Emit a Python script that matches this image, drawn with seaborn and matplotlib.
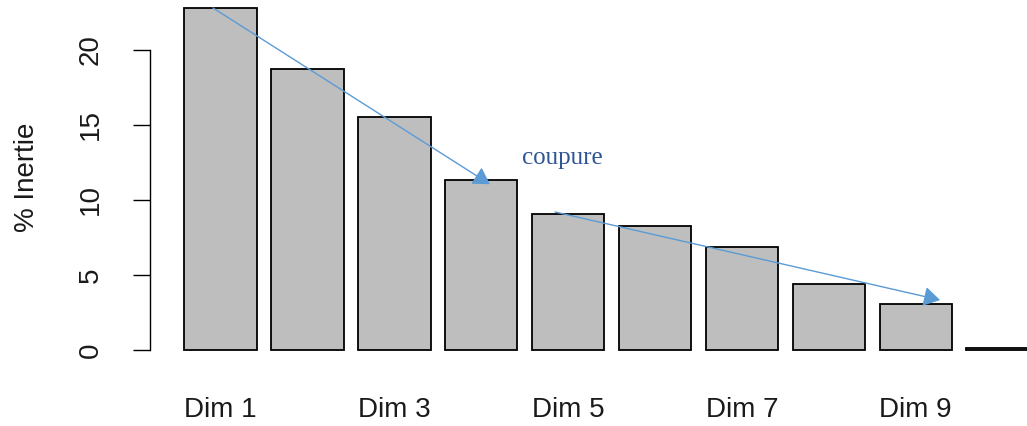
import matplotlib
matplotlib.use("Agg")
import matplotlib.pyplot as plt
import seaborn as sns

# valeurs (% d'inertie par dimension)
dims = ["Dim 1", "Dim 2", "Dim 3", "Dim 4", "Dim 5",
        "Dim 6", "Dim 7", "Dim 8", "Dim 9", "Dim 10"]
inertie = [22.8, 18.75, 15.5, 11.3, 9.05, 8.25, 6.85, 4.4, 3.05, 0.1]
yticks = [0, 5, 10, 15, 20]

# flèches "coupure" (début, fin) en coordonnées des données
fleche1 = ((-0.086, 22.8), (3.10, 11.05))
fleche2 = ((3.85, 9.2), (8.28, 3.33))
texte_coupure = (3.93, 12.8)

sns.set_style("white")
plt.rcParams["font.family"] = ["Liberation Sans", "DejaVu Sans"]

fig = plt.figure(figsize=(10.27, 4.26), dpi=100)
ax = fig.add_axes([0, 46 / 426, 1, 380 / 426])

sns.barplot(x=dims, y=inertie, color="#BEBEBE", saturation=1,
            edgecolor="black", linewidth=1.3, width=0.833, ax=ax)

ax.set_xlim(-2.537, 9.28)
ax.set_ylim(-2.0, 23.33)

for s in ["top", "right", "bottom"]:
    ax.spines[s].set_visible(False)
ax.spines["left"].set_position(("data", -0.806))
ax.spines["left"].set_bounds(0, 20)
ax.spines["left"].set_linewidth(1.0)
ax.spines["left"].set_color("black")

ax.set_yticks(yticks)
ax.set_yticklabels([str(v) for v in yticks], rotation=90, va="center")
ax.tick_params(axis="y", length=12.5, width=1.0, pad=21, labelsize=20,
               colors="#1a1a1a", direction="out", left=True)
ax.tick_params(axis="y", color="black")

ax.set_xticks(range(0, len(dims), 2))
ax.set_xticklabels(dims[::2])
ax.tick_params(axis="x", length=0, pad=12, labelsize=20, colors="#1a1a1a")
ax.set_xlabel("")

ax.set_ylabel("% Inertie", fontsize=20, color="#1a1a1a")
ax.yaxis.set_label_coords(0.039, 0.534)

for (debut, fin) in [fleche1, fleche2]:
    ax.annotate("", xy=fin, xytext=debut,
                arrowprops=dict(arrowstyle="-|>,head_length=0.5,head_width=0.3",
                                color="#5B9BD5", lw=1.0, mutation_scale=20,
                                shrinkA=0, shrinkB=0))

ax.text(*texte_coupure, "coupure", fontsize=18, color="#2F5597",
        family=["Liberation Serif", "DejaVu Serif"], ha="center", va="center")

fig.savefig("out.png", dpi=100, facecolor="white")
